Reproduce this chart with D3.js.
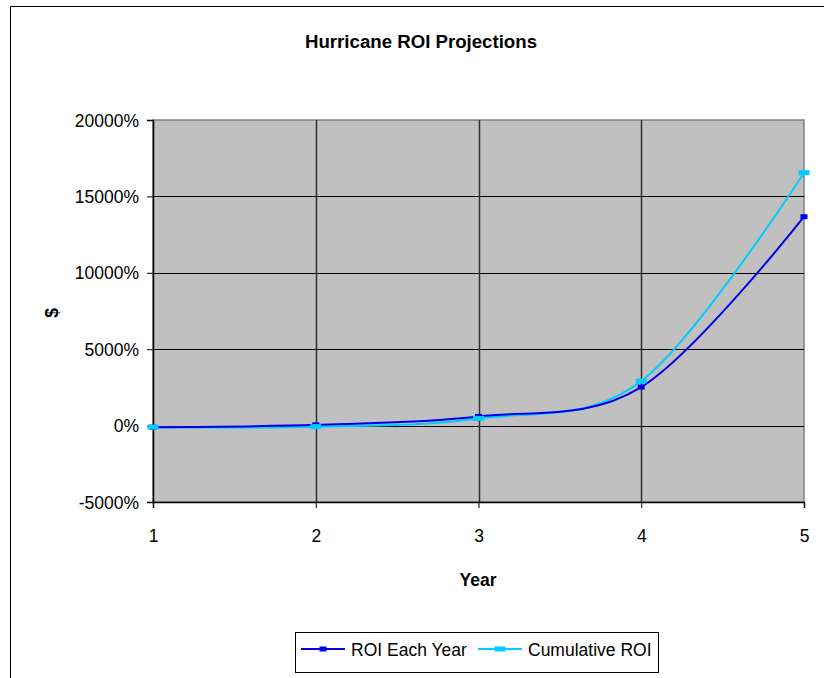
<!DOCTYPE html>
<html><head><meta charset="utf-8">
<script src="https://cdn.jsdelivr.net/npm/d3@7/dist/d3.min.js"></script>
<style>body{margin:0;background:#fff}svg{display:block}text{font-family:"Liberation Sans",Arial,sans-serif}</style>
</head><body>
<svg id="c" width="824" height="678"></svg>
<script>
const years = [1, 2, 3, 4, 5];
const roiEachYear = [-100, 50, 600, 2520, 13670];
const cumulativeROI = [-100, -70, 470, 2920, 16550];
const yTicks = [-5000, 0, 5000, 10000, 15000, 20000];
const seriesNames = ["ROI Each Year", "Cumulative ROI"];
const seriesColors = ["#0000ee", "#00ccff"];

const svg = d3.select("#c");
// outer chart frame (cropped at right and bottom)
svg.append("path").attr("d","M10.5,690 V6.5 H830").attr("fill","none").attr("stroke","#000").attr("stroke-width",1);

const m = {l:153, r:804, t:120, b:502};
const x = d3.scaleLinear().domain([1,5]).range([m.l, m.r]);
const y = d3.scaleLinear().domain([-5000,20000]).range([m.b, m.t]);

svg.append("rect").attr("x",m.l).attr("y",m.t).attr("width",m.r-m.l).attr("height",m.b-m.t)
  .attr("fill","#c0c0c0").attr("stroke","#808080").attr("stroke-width",1.5);

// gridlines
svg.append("g").selectAll("line").data(yTicks.filter(d=>d>-5000 && d<20000)).join("line")
  .attr("x1",m.l).attr("x2",m.r).attr("y1",d=>Math.round(y(d))+0.5).attr("y2",d=>Math.round(y(d))+0.5)
  .attr("stroke","#000").attr("stroke-width",1);
svg.append("g").selectAll("line").data(years.slice(1,-1)).join("line")
  .attr("x1",d=>Math.round(x(d))+0.5).attr("x2",d=>Math.round(x(d))+0.5).attr("y1",m.t).attr("y2",m.b)
  .attr("stroke","#303030").attr("stroke-width",1.5);

// axes
const yAxis = d3.axisLeft(y).tickValues(yTicks).tickFormat(d=>d+"%").tickSizeOuter(0).tickSize(6).tickPadding(8);
const gy = svg.append("g").attr("transform",`translate(${m.l},0)`).call(yAxis);
gy.select(".domain").attr("stroke","#000").attr("stroke-width",1.5);
gy.selectAll("text").attr("font-size","17.5px").attr("fill","#000").attr("dy","0.35em");

const xAxis = d3.axisBottom(x).tickValues(years).tickFormat(d3.format("d")).tickSizeOuter(0).tickSize(6).tickPadding(22);
const gx = svg.append("g").attr("transform",`translate(0,${m.b})`).call(xAxis);
gx.select(".domain").attr("stroke","#000").attr("stroke-width",1.5);
gx.selectAll("text").attr("font-size","17.5px").attr("fill","#000");

// titles
svg.append("text").attr("x",421).attr("y",48).attr("text-anchor","middle").attr("font-weight","bold")
  .attr("font-size","17.5px").attr("textLength",232).attr("lengthAdjust","spacingAndGlyphs").text("Hurricane ROI Projections");
svg.append("text").attr("x",478).attr("y",586).attr("text-anchor","middle").attr("font-weight","bold")
  .attr("font-size","17.5px").text("Year");
svg.append("text").attr("transform","translate(58,313) rotate(-90)").attr("text-anchor","middle").attr("font-weight","bold")
  .attr("font-size","17.5px").text("$");

// lines
const line = d3.line().x((d,i)=>x(years[i])).y(d=>y(d)).curve(d3.curveCardinal.tension(0));
const data = [roiEachYear, cumulativeROI];
const mk = [{w:7,h:5},{w:11,h:5}];
[1,0].forEach(s=>{
  svg.append("path").attr("d",line(data[s])).attr("fill","none").attr("stroke",seriesColors[s]).attr("stroke-width",2);
});
[0,1].forEach(s=>{
  svg.append("g").selectAll("rect").data(data[s]).join("rect")
    .attr("x",(d,i)=>x(years[i])-mk[s].w/2).attr("y",d=>y(d)-mk[s].h/2)
    .attr("width",mk[s].w).attr("height",mk[s].h).attr("fill",seriesColors[s]);
});

// legend
svg.append("rect").attr("x",295.5).attr("y",632.5).attr("width",363).attr("height",40).attr("fill","#fff").attr("stroke","#000");
const lx = [301, 478], tx = [351, 528];
[0,1].forEach(s=>{
  svg.append("line").attr("x1",lx[s]).attr("x2",lx[s]+44).attr("y1",649).attr("y2",649).attr("stroke",seriesColors[s]).attr("stroke-width",2);
  svg.append("rect").attr("x",lx[s]+22-mk[s].w/2).attr("y",649-mk[s].h/2).attr("width",mk[s].w).attr("height",mk[s].h).attr("fill",seriesColors[s]);
  svg.append("text").attr("x",tx[s]).attr("y",655.5).attr("font-size","17.5px").text(seriesNames[s]);
});
</script>
</body></html>
